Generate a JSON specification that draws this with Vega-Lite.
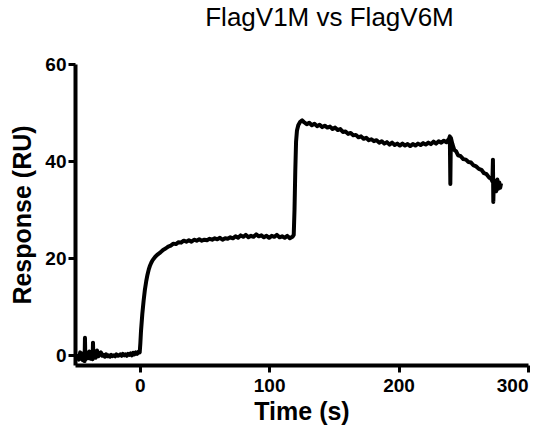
{
  "$schema": "https://vega.github.io/schema/vega-lite/v6.json",
  "width": 453,
  "height": 301,
  "autosize": "none",
  "padding": {"left": 75, "top": 64, "right": 17, "bottom": 60},
  "background": "white",
  "title": {
    "text": "FlagV1M vs FlagV6M",
    "font": "Liberation Sans",
    "fontSize": 26,
    "fontWeight": "normal",
    "color": "black",
    "dx": 28,
    "offset": 24
  },
  "config": {
    "view": {"stroke": null},
    "axis": {
      "grid": false,
      "domainColor": "black",
      "domainWidth": 4,
      "tickColor": "black",
      "tickWidth": 3,
      "tickSize": 7,
      "labelFont": "Liberation Sans",
      "labelFontSize": 19,
      "labelFontWeight": "bold",
      "labelColor": "black",
      "titleFont": "Liberation Sans",
      "titleFontSize": 25,
      "titleFontWeight": "bold",
      "titleColor": "black"
    }
  },
  "data": {
    "values": [
      {"t": -48, "r": 0.3}, {"t": -47, "r": -0.9}, {"t": -46, "r": 0.6}, {"t": -45.5, "r": -0.7},
      {"t": -45, "r": 0.4}, {"t": -44, "r": -1.0}, {"t": -43, "r": 0.2}, {"t": -42.6, "r": -1.2},
      {"t": -42.3, "r": 3.6}, {"t": -42, "r": -0.9}, {"t": -41, "r": 0.5}, {"t": -40, "r": -0.6},
      {"t": -39, "r": 0.8}, {"t": -38, "r": -0.7}, {"t": -37, "r": 0.3}, {"t": -36.4, "r": -0.8},
      {"t": -36.1, "r": 2.6}, {"t": -35.8, "r": -0.6}, {"t": -35, "r": 0.4}, {"t": -34, "r": -0.5},
      {"t": -33, "r": 1.0}, {"t": -32, "r": -0.2}, {"t": -31, "r": 0.3}, {"t": -30, "r": 0.6},
      {"t": -29, "r": -0.1}, {"t": -28, "r": 0.1}, {"t": -27, "r": -0.3}, {"t": -26, "r": 0.2},
      {"t": -25, "r": -0.2}, {"t": -24, "r": 0.0}, {"t": -23, "r": -0.3}, {"t": -22, "r": 0.1},
      {"t": -21, "r": -0.2}, {"t": -20, "r": 0.0}, {"t": -19, "r": -0.2}, {"t": -18, "r": 0.2},
      {"t": -17, "r": -0.1}, {"t": -16, "r": 0.0}, {"t": -15, "r": 0.2}, {"t": -14, "r": -0.1},
      {"t": -13, "r": 0.3}, {"t": -12, "r": 0.0}, {"t": -11, "r": 0.2}, {"t": -10, "r": -0.1},
      {"t": -9, "r": 0.3}, {"t": -8, "r": 0.1}, {"t": -7, "r": 0.4}, {"t": -6, "r": 0.0},
      {"t": -5, "r": 0.5}, {"t": -4, "r": 0.2}, {"t": -3, "r": 0.6}, {"t": -2, "r": 0.3},
      {"t": -1, "r": 0.7}, {"t": 0, "r": 0.6},
      {"t": 0.5, "r": 2.5}, {"t": 1, "r": 5}, {"t": 2, "r": 8.5}, {"t": 3, "r": 11.2},
      {"t": 4, "r": 13.5}, {"t": 5, "r": 15.2}, {"t": 6, "r": 16.6}, {"t": 7, "r": 17.7},
      {"t": 8, "r": 18.5}, {"t": 9, "r": 19.1}, {"t": 10, "r": 19.6}, {"t": 12, "r": 20.3},
      {"t": 14, "r": 20.8}, {"t": 16, "r": 21.2}, {"t": 18, "r": 21.7}, {"t": 20, "r": 22.0},
      {"t": 22, "r": 22.4}, {"t": 24, "r": 22.6}, {"t": 26, "r": 23.0}, {"t": 28, "r": 22.9},
      {"t": 30, "r": 23.3}, {"t": 32, "r": 23.2}, {"t": 34, "r": 23.6}, {"t": 36, "r": 23.4},
      {"t": 38, "r": 23.7}, {"t": 40, "r": 23.4}, {"t": 42, "r": 23.8}, {"t": 44, "r": 23.6},
      {"t": 46, "r": 23.9}, {"t": 48, "r": 23.6}, {"t": 50, "r": 23.8}, {"t": 52, "r": 23.7},
      {"t": 54, "r": 24.0}, {"t": 56, "r": 23.8}, {"t": 58, "r": 24.1}, {"t": 60, "r": 23.9},
      {"t": 62, "r": 24.2}, {"t": 64, "r": 23.8}, {"t": 66, "r": 24.1}, {"t": 68, "r": 24.0},
      {"t": 70, "r": 24.3}, {"t": 72, "r": 24.1}, {"t": 74, "r": 24.5}, {"t": 76, "r": 24.2},
      {"t": 78, "r": 24.7}, {"t": 80, "r": 24.4}, {"t": 82, "r": 24.8}, {"t": 84, "r": 24.3},
      {"t": 86, "r": 24.6}, {"t": 88, "r": 24.4}, {"t": 90, "r": 24.9}, {"t": 92, "r": 24.5},
      {"t": 94, "r": 24.7}, {"t": 96, "r": 24.3}, {"t": 98, "r": 24.6}, {"t": 100, "r": 24.2},
      {"t": 102, "r": 24.6}, {"t": 104, "r": 24.4}, {"t": 106, "r": 24.8}, {"t": 108, "r": 24.3},
      {"t": 110, "r": 24.5}, {"t": 112, "r": 24.2}, {"t": 114, "r": 24.6}, {"t": 116, "r": 24.1},
      {"t": 118, "r": 24.4}, {"t": 119, "r": 24.8}, {"t": 119.6, "r": 30},
      {"t": 120.2, "r": 38}, {"t": 120.8, "r": 44}, {"t": 121.5, "r": 46.3}, {"t": 122.5, "r": 47.4},
      {"t": 124, "r": 48.1}, {"t": 125.5, "r": 48.4}, {"t": 127, "r": 48.0}, {"t": 129, "r": 47.6},
      {"t": 131, "r": 47.9}, {"t": 133, "r": 47.4}, {"t": 135, "r": 47.7}, {"t": 137, "r": 47.2},
      {"t": 139, "r": 47.5}, {"t": 141, "r": 47.0}, {"t": 143, "r": 47.3}, {"t": 145, "r": 46.9},
      {"t": 147, "r": 47.1}, {"t": 149, "r": 46.6}, {"t": 151, "r": 46.9}, {"t": 153, "r": 46.4},
      {"t": 155, "r": 46.6}, {"t": 157, "r": 46.0}, {"t": 159, "r": 46.1}, {"t": 161, "r": 45.6},
      {"t": 163, "r": 45.8}, {"t": 165, "r": 45.3}, {"t": 167, "r": 45.4}, {"t": 169, "r": 44.9},
      {"t": 171, "r": 45.1}, {"t": 173, "r": 44.6}, {"t": 175, "r": 44.8}, {"t": 177, "r": 44.3},
      {"t": 179, "r": 44.5}, {"t": 181, "r": 44.1}, {"t": 183, "r": 44.3}, {"t": 185, "r": 43.8},
      {"t": 187, "r": 44.1}, {"t": 189, "r": 43.6}, {"t": 191, "r": 43.9}, {"t": 193, "r": 43.4},
      {"t": 195, "r": 43.8}, {"t": 197, "r": 43.3}, {"t": 199, "r": 43.6}, {"t": 201, "r": 43.2},
      {"t": 203, "r": 43.6}, {"t": 205, "r": 43.2}, {"t": 207, "r": 43.5}, {"t": 209, "r": 43.1},
      {"t": 211, "r": 43.5}, {"t": 213, "r": 43.2}, {"t": 215, "r": 43.6}, {"t": 217, "r": 43.3},
      {"t": 219, "r": 43.7}, {"t": 221, "r": 43.4}, {"t": 223, "r": 43.8}, {"t": 225, "r": 43.5},
      {"t": 227, "r": 44.0}, {"t": 229, "r": 43.6}, {"t": 231, "r": 44.1}, {"t": 233, "r": 43.8},
      {"t": 235, "r": 44.2}, {"t": 237, "r": 43.9}, {"t": 239, "r": 44.6}, {"t": 239.6, "r": 45.1},
      {"t": 240.0, "r": 35.3}, {"t": 240.4, "r": 44.8}, {"t": 241.5, "r": 43.6}, {"t": 243, "r": 42.3},
      {"t": 244.5, "r": 42.0}, {"t": 246, "r": 41.2}, {"t": 248, "r": 41.0}, {"t": 250, "r": 40.4},
      {"t": 252, "r": 40.3}, {"t": 254, "r": 39.8}, {"t": 256, "r": 39.7}, {"t": 258, "r": 39.1},
      {"t": 260, "r": 38.9}, {"t": 262, "r": 38.4}, {"t": 264, "r": 38.2}, {"t": 266, "r": 37.5},
      {"t": 268, "r": 37.3}, {"t": 270, "r": 36.6}, {"t": 271.5, "r": 36.4}, {"t": 272.5, "r": 35.8},
      {"t": 272.9, "r": 40.3}, {"t": 273.2, "r": 31.6}, {"t": 273.6, "r": 36.0}, {"t": 274.5, "r": 35.2},
      {"t": 275.5, "r": 33.8}, {"t": 276.3, "r": 36.2}, {"t": 277, "r": 34.3}, {"t": 277.8, "r": 35.6},
      {"t": 278.5, "r": 34.5}, {"t": 279.2, "r": 35.4}
    ]
  },
  "mark": {"type": "line", "color": "black", "strokeWidth": 4, "strokeJoin": "round", "clip": true},
  "encoding": {
    "x": {
      "field": "t",
      "type": "quantitative",
      "scale": {"domain": [-50, 300], "nice": false, "zero": false},
      "axis": {"values": [0, 100, 200, 300], "title": "Time (s)", "labelPadding": 4, "titlePadding": 4}
    },
    "y": {
      "field": "r",
      "type": "quantitative",
      "scale": {"domain": [-2, 60], "nice": false, "zero": false},
      "axis": {"values": [0, 20, 40, 60], "title": "Response (RU)", "labelPadding": 2, "titlePadding": 9}
    }
  }
}
